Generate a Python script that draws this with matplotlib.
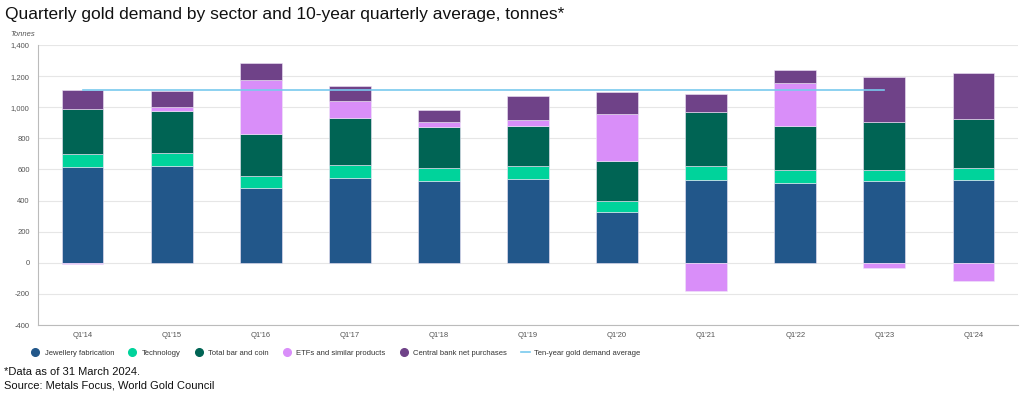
import matplotlib
matplotlib.use("Agg")
import matplotlib.pyplot as plt
from matplotlib.lines import Line2D
import numpy as np

plt.rcParams['font.family'] = ['Liberation Sans', 'DejaVu Sans']

quarters = ["Q1'14", "Q1'15", "Q1'16", "Q1'17", "Q1'18", "Q1'19",
            "Q1'20", "Q1'21", "Q1'22", "Q1'23", "Q1'24"]

jewellery = [614, 620, 481, 548, 526, 539, 327, 535, 516, 526, 531]
technology = [83, 86, 75, 79, 84, 83, 73, 84, 79, 73, 81]
bar_coin = [294, 267, 274, 303, 263, 260, 255, 348, 287, 306, 315]
etfs = [-5, 28, 347, 110, 30, 38, 299, -180, 271, -32, -115]
central_bank = [117, 103, 106, 94, 81, 150, 141, 118, 84, 289, 290]

# ten-year average, drawn from Q1'14 to Q1'23
avg_value = 1112
avg_quarters = quarters[:10]

series = [
    ("Jewellery fabrication", jewellery, "#22578a"),
    ("Technology", technology, "#00d39b"),
    ("Total bar and coin", bar_coin, "#006454"),
    ("ETFs and similar products", etfs, "#d98ef9"),
    ("Central bank net purchases", central_bank, "#6f4288"),
]
line_color = "#79c9ee"

fig = plt.figure(figsize=(10.23, 3.96), dpi=100)
ax = fig.add_axes([38 / 1023, 1 - 325 / 396, 980 / 1023, 280 / 396])

x = np.arange(len(quarters))
pos_bottom = np.zeros(len(quarters))
neg_bottom = np.zeros(len(quarters))
for name, vals, col in series:
    vals = np.array(vals, dtype=float)
    bottoms = np.where(vals >= 0, pos_bottom, neg_bottom)
    ax.bar(x, vals, 0.47, bottom=bottoms, color=col, edgecolor="#f0e6f8",
           linewidth=0.4, zorder=3)
    pos_bottom = pos_bottom + np.where(vals >= 0, vals, 0)
    neg_bottom = neg_bottom + np.where(vals < 0, vals, 0)

ax.plot(np.arange(len(avg_quarters)), [avg_value] * len(avg_quarters),
        color=line_color, lw=1.2, zorder=4)

ax.set_xlim(-0.5, len(quarters) - 0.5)
ax.set_ylim(-400, 1400)
ax.set_yticks(np.arange(-400, 1401, 200))
ax.set_yticklabels([f"{v:,}" for v in range(-400, 1401, 200)])
ax.set_xticks(x)
ax.set_xticklabels(quarters)
ax.tick_params(axis='both', length=0, labelsize=5.5, colors="#555555")
ax.tick_params(axis='y', pad=6)
ax.tick_params(axis='x', pad=5)
ax.grid(axis='y', color="#e6e6e6", lw=0.8, zorder=0)
for s in ["top", "right"]:
    ax.spines[s].set_visible(False)
for s in ["left", "bottom"]:
    ax.spines[s].set_color("#bbbbbb")
    ax.spines[s].set_linewidth(0.8)

fig.text(5 / 1023, 1 - 14 / 396, "Quarterly gold demand by sector and 10-year quarterly average, tonnes*",
         fontsize=12.5, va='center', ha='left', color="#111111")
fig.text(10 / 1023, 1 - 35 / 396, "Tonnes", fontsize=5.5, style='italic',
         color="#555555", va='center', ha='left')

handles = [Line2D([0], [0], marker='o', color='none', markerfacecolor=c,
                  markeredgecolor=c, markersize=5.5) for _, _, c in series]
handles.append(Line2D([0], [0], color=line_color, lw=1.2))
labels = [n for n, _, _ in series] + ["Ten-year gold demand average"]
fig.legend(handles, labels, loc='center left', bbox_to_anchor=(24 / 1023, 1 - 353 / 396),
           ncol=6, frameon=False, fontsize=5.5, handlelength=1.2, handletextpad=0.6,
           columnspacing=1.8, labelcolor="#333333")

fig.text(4 / 1023, 1 - 372 / 396, "*Data as of 31 March 2024.", fontsize=8,
         va='center', ha='left', color="#111111")
fig.text(4 / 1023, 1 - 386 / 396, "Source: Metals Focus, World Gold Council", fontsize=8,
         va='center', ha='left', color="#111111")

fig.savefig("out.png", dpi=100)
